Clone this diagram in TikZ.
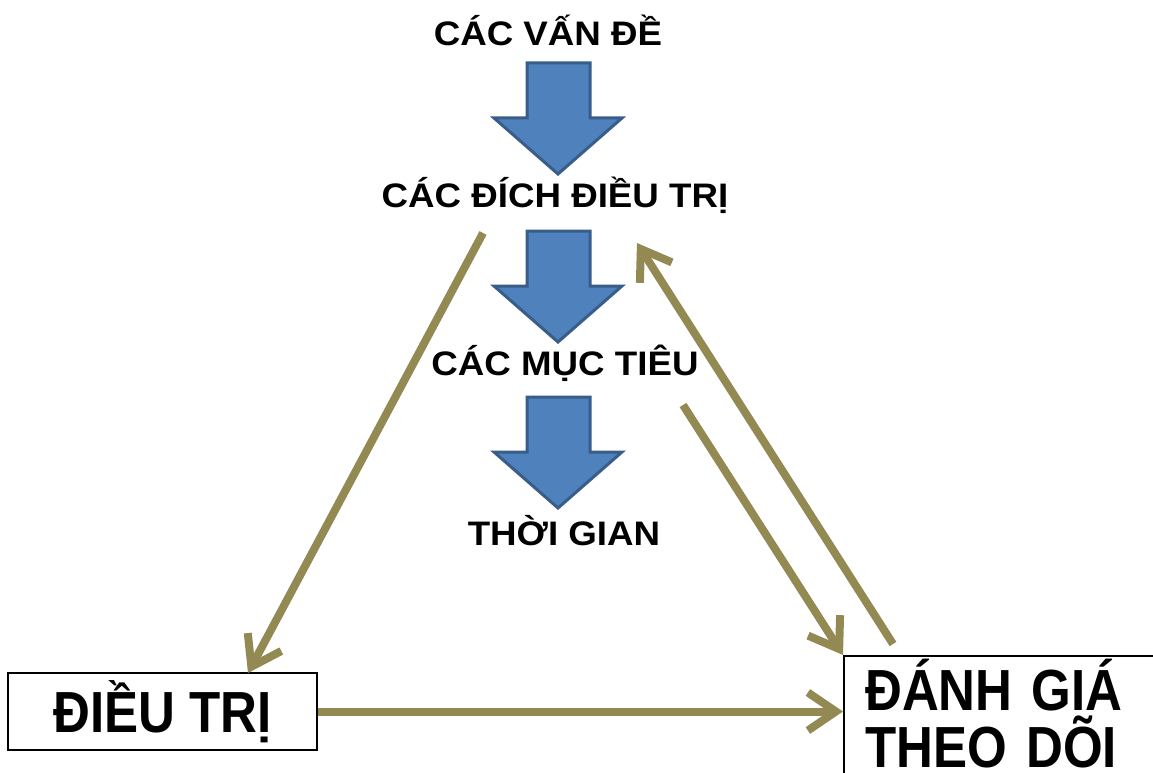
\documentclass[tikz,border=0pt]{standalone}
\usepackage{fontspec}
\setmainfont{Liberation Sans}
\newfontfamily\nhanfont[FakeStretch=1.08]{Liberation Sans}
\newfontfamily\hopfont[FakeStretch=0.88]{Liberation Sans}
\usetikzlibrary{arrows.meta}
\definecolor{oliu}{HTML}{938953}
\definecolor{xanh}{HTML}{4F81BD}
\definecolor{xanhdam}{HTML}{385D8A}
\tikzset{
  nhan/.style={font=\nhanfont\bfseries\fontsize{34}{38}\selectfont, anchor=base, inner sep=0pt},
  chu/.style={font=\hopfont\bfseries\fontsize{58}{57}\selectfont},
  hop/.style={draw=black, line width=2pt, inner ysep=0pt},
  lien/.style={draw=oliu, line width=8pt, -{Straight Barb[length=28pt,width=38pt]}},
  muiten/.pic={\filldraw[fill=xanh, draw=xanhdam, line width=3pt, line join=miter]
    (-31,0) -- (32,0) -- (32,55) -- (64,55) -- (0,111) -- (-64,55) -- (-31,55) -- cycle;}
}
\begin{document}
\begin{tikzpicture}[x=1pt,y=-1pt]
        \useasboundingbox (0,0) rectangle (1153,773);

        % Cac buoc
        \node[nhan] (van) at (548,46) {CÁC VẤN ĐỀ};
        \node[nhan] (dich) at (555,207) {CÁC ĐÍCH ĐIỀU TRỊ};
        \node[nhan] (muc) at (565,375) {CÁC MỤC TIÊU};
        \node[nhan] (tgian) at (564,545) {THỜI GIAN};

        % Mui ten xanh
        \foreach \y in {63,231,397}
            \pic at (558,\y) {muiten};

        % Hai hop
        \node[hop, chu, minimum width=309pt, text height=59pt, text depth=18pt] (dtri) at (162.5,711.5) {ĐIỀU TRỊ};
        \node[hop, anchor=north west, minimum width=340pt, minimum height=130pt] (dg) at (843,655) {};
        \node[chu, anchor=base west, text width=260pt, align=left, inner sep=0pt] (dgchu) at (865,710) {ĐÁNH GIÁ\\THEO DÕI};

        % Dau mui ten
        \coordinate (dichL) at (483,233);
        \coordinate (dichR) at (637,243);
        \coordinate (mucR) at (683,405);
        \coordinate (dgTop) at (893,644);
        \coordinate (dtriIn) at (248,673);

        % Vong lap
        \draw[lien] (dichL) -- (dtriIn);
        \draw[lien] (dtri.east) -- (dtri.east -| dg.west);
        \draw[lien] (mucR) -- (dg.north west);
        \draw[lien] (dgTop) -- (dichR);
    \end{tikzpicture}
\end{document}
